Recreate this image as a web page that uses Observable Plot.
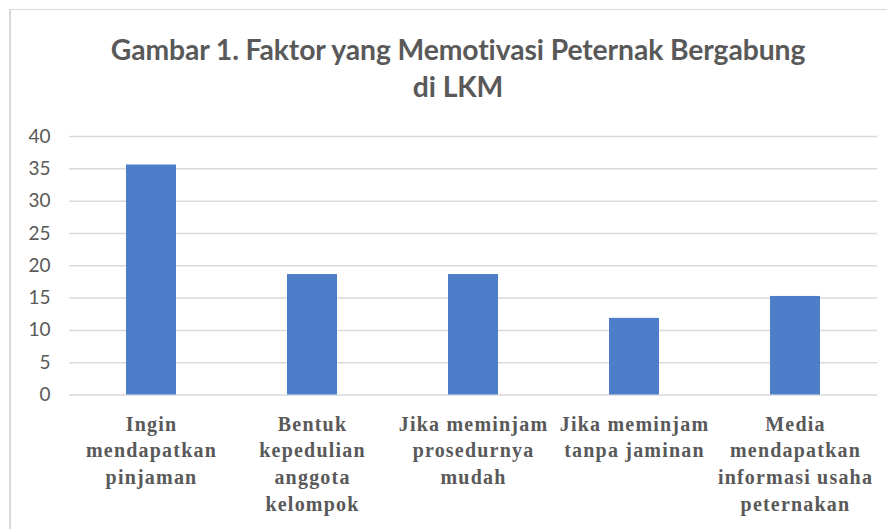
<!DOCTYPE html>
<html><head><meta charset="utf-8">
<script src="https://cdn.jsdelivr.net/npm/d3@7"></script>
<script src="https://cdn.jsdelivr.net/npm/@observablehq/plot@0.6"></script>
<style>
body{margin:0;background:#fff;}
#wrap{position:relative;width:887px;height:529px;overflow:hidden;background:#fff;}
#frame{position:absolute;left:9px;top:9px;width:900px;height:600px;border-top:1px solid #d9d9d9;border-left:2px solid #d9d9d9;}
#title{position:absolute;left:0;width:916px;top:31px;text-align:center;font-family:Lato;font-weight:bold;font-size:28.3px;color:#595959;line-height:37px;letter-spacing:-0.1px;}
#chart{position:absolute;left:0;top:0;}
#chart g[aria-label="x-axis tick label"]{letter-spacing:1.2px;}
</style></head>
<body><div id="wrap"><div id="frame"></div><div id="title">Gambar 1. Faktor yang Memotivasi Peternak Bergabung<br>di LKM</div><div id="chart"></div></div>
<script>
const categories = [
  "Ingin\nmendapatkan\npinjaman",
  "Bentuk\nkepedulian\nanggota\nkelompok",
  "Jika meminjam\nprosedurnya\nmudah",
  "Jika meminjam\ntanpa jaminan",
  "Media\nmendapatkan\ninformasi usaha\npeternakan"
];
const values = [35.59, 18.64, 18.64, 11.86, 15.25];
const yTicks = [0, 5, 10, 15, 20, 25, 30, 35, 40];

const data = categories.map((c, i) => ({cat: c, value: values[i]}));

const chart = Plot.plot({
  width: 887,
  height: 529,
  marginTop: 136,
  marginBottom: 134.5,
  marginLeft: 69,
  marginRight: 10,
  x: {domain: categories, paddingInner: 0.69, paddingOuter: 0.345, axis: null},
  y: {domain: [0, 40], axis: null},
  marks: [
    Plot.gridY(yTicks, {stroke: "#d9d9d9", strokeOpacity: 1, strokeWidth: 1.5}),
    Plot.barY(data, {x: "cat", y: "value", fill: "#4e7dc9"}),
    Plot.axisY(yTicks, {tickSize: 0, tickPadding: 19, fontSize: 19, fontFamily: "Lato", color: "#595959", label: null}),
    Plot.axisX({tickSize: 0, tickPadding: 17, lineAnchor: "top", lineHeight: 1.33, fontSize: 20, fontFamily: "Liberation Serif", fontWeight: "bold", color: "#595959", label: null})
  ]
});
document.getElementById("chart").appendChild(chart);
</script>
</body></html>
